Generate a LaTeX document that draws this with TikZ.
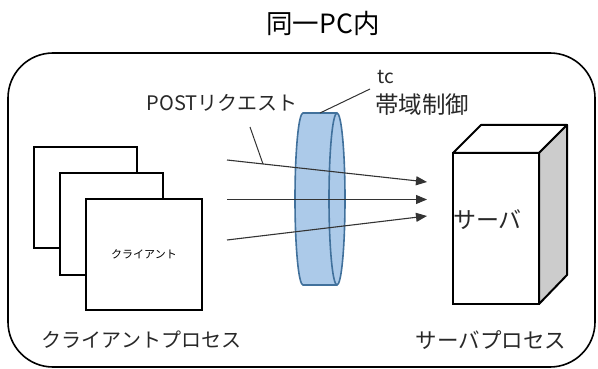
\documentclass[tikz,border=0pt]{standalone}
\usepackage{fontspec}
\setmainfont{Noto Sans CJK JP}
\usetikzlibrary{arrows.meta}
\definecolor{discfill}{RGB}{172,202,233}
\definecolor{discline}{RGB}{65,113,156}
\definecolor{sidegray}{RGB}{204,204,204}
\definecolor{txt}{RGB}{40,40,40}
\tikzset{
  box/.style={draw=black, line width=2pt, fill=white, inner sep=0pt},
  flow/.style={draw=black!80, line width=1.1pt, -{Triangle[length=11pt,width=9pt]}},
  leader/.style={draw=black!80, line width=1pt},
  lbl/.style={text=txt, inner sep=0pt, anchor=center}
}
\begin{document}
\begin{tikzpicture}[x=1pt,y=-1pt]
\useasboundingbox (0,0) rectangle (598,369);
% title
\node[lbl, text=black, font=\fontsize{26.5}{26}\selectfont] (title) at (323,23) {同一PC内};
% outer frame
\draw[line width=1.6pt, rounded corners=45pt] (8,53) rectangle (595,367);
% client windows
\node[box, minimum width=103pt, minimum height=101pt] (c1) at (85.5,197.5) {};
\node[box, minimum width=103pt, minimum height=102pt] (c2) at (111.5,224) {};
\node[box, minimum width=116pt, minimum height=111pt, font=\fontsize{11}{11}\selectfont] (c3) at (144,254.5) {クライアント};
\node[lbl, font=\fontsize{20}{20}\selectfont] (clbl) at (141.5,340) {クライアントプロセス};
% disc (tc)
\path[fill=discfill] (337,113) -- (303,113) arc[start angle=270, end angle=90, x radius=8, y radius=86] -- (337,285) -- cycle;
\fill[discfill] (337,199) ellipse[x radius=8, y radius=86];
\draw[discline, line width=1.6pt] (337,113) -- (303,113) arc[start angle=270, end angle=90, x radius=8, y radius=86] -- (337,285);
\draw[discline, line width=1.6pt] (337,199) ellipse[x radius=8, y radius=86];
\coordinate (disctop) at (320,113);
% arrows
\coordinate (a1s) at (227,160); \coordinate (a1e) at (427,182);
\coordinate (a2s) at (227,199.5); \coordinate (a2e) at (427,199.5);
\coordinate (a3s) at (227,240); \coordinate (a3e) at (427,216);
\draw[flow] (a1s) -- (a1e);
\draw[flow] (a2s) -- (a2e);
\draw[flow] (a3s) -- (a3e);
% labels
\node[lbl, font=\fontsize{20}{20}\selectfont] (post) at (222,103) {POSTリクエスト};
\coordinate (postend) at (250,127);
\coordinate (arrowhit) at (263,164);
\draw[leader] (postend) -- (arrowhit);
\node[lbl, anchor=west, font=\fontsize{19}{19}\selectfont] (tc) at (377,77) {tc};
\node[lbl, anchor=west, font=\fontsize{23.5}{22}\selectfont] (bw) at (375,105) {帯域制御};
\coordinate (tcend) at (370,89);
\draw[leader] (tcend) -- (disctop);
% server
\draw[line width=2pt, fill=white, line join=round] (453,153) -- (481,125) -- (567,125) -- (539,153) -- cycle;
\draw[line width=2pt, fill=sidegray, line join=round] (539,153) -- (567,125) -- (567,275) -- (539,304) -- cycle;
\node[box, minimum width=86pt, minimum height=151pt] (srv) at (496,228.5) {};
\node[lbl, anchor=west, font=\fontsize{23}{22}\selectfont] (srvtxt) at (453,220) {サーバ};
\node[lbl, font=\fontsize{21.5}{22}\selectfont] (slbl) at (491,340) {サーバプロセス};
\end{tikzpicture}
\end{document}
